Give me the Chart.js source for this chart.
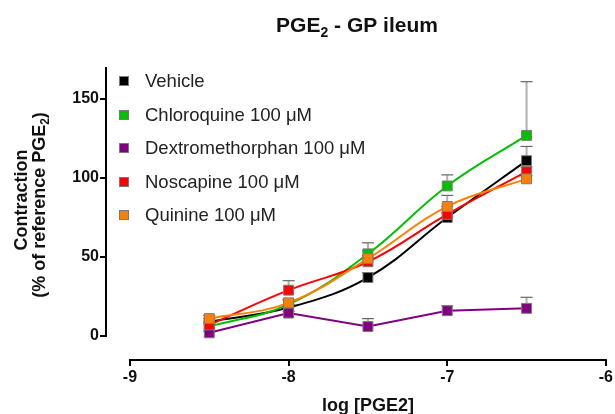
<!DOCTYPE html>
<html><head><meta charset="utf-8">
<script src="https://cdn.jsdelivr.net/npm/chart.js@4"></script>
<style>html,body{margin:0;padding:0;background:#fff}#wrap{width:615px;height:414px}</style>
</head><body><div id="wrap"><canvas id="c" width="615" height="414"></canvas></div>
<script>
// ---- data ----
const logDose = [-8.5, -8, -7.5, -7, -6.5];
const seriesNames = ['Vehicle', 'Chloroquine 100 μM', 'Dextromethorphan 100 μM', 'Noscapine 100 μM', 'Quinine 100 μM'];
const vehicle = [9, 18, 37, 75, 111];
const vehicleErr = [2, 2, 3, 3, 9];
const chloroquine = [6, 20, 52, 95, 127];
const chloroquineErr = [2, 3, 7, 7, 34];
const dextromethorphan = [2, 14.5, 6, 16, 17.5];
const dextromethorphanErr = [1, 1, 5, 3, 7];
const noscapine = [7, 29, 47, 77, 104];
const noscapineErr = [2, 6, 4, 5, 3];
const quinine = [11, 21, 49, 82, 99.5];
const quinineErr = [2, 2, 5, 7, 2];
const xTicks = [-9, -8, -7, -6];
const yTicks = [0, 50, 100, 150];

const FONT = "'Liberation Sans', Arial, Helvetica, sans-serif";
const colors = ['#000000', '#00c000', '#800080', '#ff0000', '#ff8000'];
const values = [vehicle, chloroquine, dextromethorphan, noscapine, quinine];
const errors = [vehicleErr, chloroquineErr, dextromethorphanErr, noscapineErr, quinineErr];
const fitted = [true, true, false, true, true];

const datasets = values.map((vals, i) => ({
  label: seriesNames[i],
  data: vals.map((v, j) => ({x: logDose[j], y: v})),
  borderColor: colors[i],
  backgroundColor: colors[i],
  borderWidth: 2,
  pointStyle: 'rect',
  pointRadius: 7,
  pointHoverRadius: 7,
  pointBackgroundColor: colors[i],
  pointBorderColor: '#7a7a7a',
  pointBorderWidth: 1,
  tension: fitted[i] ? 0.4 : 0,
  order: 5 - i,
  errs: errors[i]
}));

function drawRich(ctx, parts, x, y, size, bold) {
  const w = parts.reduce((s, p) => {
    ctx.font = (bold ? 'bold ' : '') + (p.sub ? Math.round(size * 0.65) : size) + 'px ' + FONT;
    return s + ctx.measureText(p.t).width;
  }, 0);
  let cx = x - w / 2;
  parts.forEach(p => {
    const fs = p.sub ? Math.round(size * 0.65) : size;
    ctx.font = (bold ? 'bold ' : '') + fs + 'px ' + FONT;
    ctx.fillText(p.t, cx, y + (p.sub ? size * 0.22 : 0));
    cx += ctx.measureText(p.t).width;
  });
}

const errorBars = {
  id: 'errorBars',
  beforeDatasetsDraw(chart) {
    const ctx = chart.ctx, xs = chart.scales.x, ys = chart.scales.y;
    ctx.save();
    chart.data.datasets.forEach(ds => {
      ds.data.forEach((p, j) => {
        const e = ds.errs[j];
        const px = xs.getPixelForValue(p.x);
        const y0 = ys.getPixelForValue(p.y);
        const y1 = ys.getPixelForValue(p.y + e);
        ctx.strokeStyle = '#b0b0b0';
        ctx.lineWidth = 2;
        ctx.beginPath(); ctx.moveTo(px, y0); ctx.lineTo(px, y1); ctx.stroke();
        ctx.strokeStyle = '#666666';
        ctx.lineWidth = 1.2;
        ctx.beginPath(); ctx.moveTo(px - 6, y1); ctx.lineTo(px + 6, y1); ctx.stroke();
      });
    });
    ctx.restore();
  }
};

const decorations = {
  id: 'decorations',
  afterDraw(chart) {
    const ctx = chart.ctx, xs = chart.scales.x, ys = chart.scales.y, ca = chart.chartArea;
    ctx.save();
    // axis lines
    ctx.strokeStyle = '#000'; ctx.lineWidth = 2; ctx.lineCap = 'butt';
    ctx.beginPath();
    ctx.moveTo(ca.left, ys.getPixelForValue(0) + 1);
    ctx.lineTo(ca.left, ca.top);
    ctx.stroke();
    ctx.beginPath();
    ctx.moveTo(xs.getPixelForValue(xTicks[0]) - 1, ca.bottom);
    ctx.lineTo(xs.getPixelForValue(xTicks[xTicks.length - 1]) + 1, ca.bottom);
    ctx.stroke();
    // title
    ctx.fillStyle = '#111';
    ctx.textBaseline = 'alphabetic';
    ctx.textAlign = 'left';
    drawRich(ctx, [{t: 'PGE'}, {t: '2', sub: true}, {t: ' - GP ileum'}], 357, 32, 21, true);
    // x title
    drawRich(ctx, [{t: 'log [PGE2]'}], (xs.getPixelForValue(xTicks[0]) + xs.getPixelForValue(xTicks[3])) / 2, 411, 18, true);
    // y title
    ctx.save();
    ctx.rotate(-Math.PI / 2);
    drawRich(ctx, [{t: 'Contraction'}], -200, 27, 18, true);
    drawRich(ctx, [{t: '(% of reference PGE'}, {t: '2', sub: true}, {t: ')'}], -205, 45, 18, true);
    ctx.restore();
    // legend
    const rows = [81, 115, 148, 182, 215];
    chart.data.datasets.forEach((ds, i) => {
      const y = rows[i];
      ctx.fillStyle = colors[i];
      ctx.fillRect(119.5, y - 4.5, 9, 9);
      ctx.strokeStyle = '#7a7a7a'; ctx.lineWidth = 1;
      ctx.strokeRect(119.5, y - 4.5, 9, 9);
      ctx.fillStyle = '#222';
      ctx.font = '18.5px ' + FONT;
      ctx.textBaseline = 'middle';
      ctx.textAlign = 'left';
      ctx.fillText(ds.label, 145, y + 1);
    });
    ctx.restore();
  }
};

new Chart(document.getElementById('c'), {
  type: 'line',
  data: {datasets},
  plugins: [errorBars, decorations],
  options: {
    responsive: false,
    animation: false,
    devicePixelRatio: 1,
    layout: {padding: {left: 0, right: 7, top: 67, bottom: 0}, autoPadding: false},
    plugins: {legend: {display: false}, title: {display: false}, tooltip: {enabled: false}},
    scales: {
      x: {
        type: 'linear', min: -9.151, max: -6,
        afterBuildTicks: s => { s.ticks = xTicks.map(v => ({value: v})); },
        afterFit: s => { s.height = 54; },
        grid: {drawOnChartArea: false, drawTicks: true, tickLength: 6, color: '#000', lineWidth: 2},
        border: {display: false},
        ticks: {padding: 2, color: '#111', font: {family: FONT, size: 16, weight: 'bold'}, callback: v => String(v), maxRotation: 0, autoSkip: false}
      },
      y: {
        type: 'linear', min: -15.2, max: 170.3,
        afterBuildTicks: s => { s.ticks = yTicks.map(v => ({value: v})); },
        afterFit: s => { s.width = 106; },
        grid: {drawOnChartArea: false, drawTicks: true, tickLength: 6, color: '#000', lineWidth: 2},
        border: {display: false},
        ticks: {padding: 1, color: '#111', font: {family: FONT, size: 16, weight: 'bold'}, callback: v => String(v)}
      }
    }
  }
});
</script>
</body></html>
